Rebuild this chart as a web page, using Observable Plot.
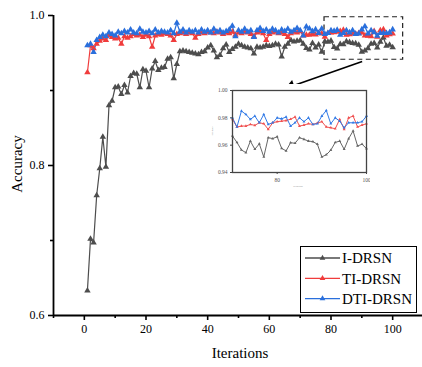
<!DOCTYPE html>
<html><head><meta charset="utf-8">
<script src="https://cdn.jsdelivr.net/npm/d3@7"></script>
<script src="https://cdn.jsdelivr.net/npm/@observablehq/plot@0.6"></script>
<style>
body{margin:0;background:#fff;}
#wrap{position:relative;width:422px;height:367px;overflow:hidden;background:#fff;}
#wrap svg.inset{position:absolute;left:200px;top:84px;}
</style></head><body><div id="wrap"></div>
<script>
const iterations = d3.range(1, 101);
const iDRSN = [0.633,0.702,0.697,0.760,0.796,0.838,0.798,0.880,0.886,0.904,
0.905,0.895,0.907,0.897,0.919,0.923,0.922,0.904,0.928,0.926,
0.904,0.929,0.939,0.927,0.930,0.931,0.942,0.944,0.916,0.935,
0.952,0.953,0.952,0.951,0.950,0.949,0.948,0.951,0.952,0.957,
0.960,0.953,0.944,0.947,0.956,0.961,0.951,0.955,0.958,0.962,
0.960,0.958,0.957,0.956,0.949,0.958,0.957,0.958,0.960,0.959,
0.960,0.962,0.961,0.945,0.958,0.962,0.967,0.965,0.966,0.9667,
0.962,0.9565,0.9545,0.963,0.957,0.961,0.9514,0.9655,0.9648,0.9662,
0.9577,0.9558,0.9618,0.9614,0.9655,0.9643,0.963,0.9626,0.9607,0.9514,
0.953,0.9563,0.962,0.963,0.957,0.9648,0.9704,0.9594,0.9607,0.9575];
const tiDRSN = [0.924,0.960,0.956,0.962,0.966,0.969,0.967,0.973,0.971,0.969,
0.970,0.962,0.972,0.970,0.972,0.975,0.973,0.974,0.971,0.974,
0.972,0.958,0.973,0.975,0.974,0.976,0.975,0.973,0.967,0.975,
0.976,0.977,0.975,0.977,0.976,0.970,0.975,0.977,0.976,0.978,
0.977,0.976,0.978,0.977,0.975,0.977,0.976,0.978,0.974,0.977,
0.976,0.978,0.977,0.975,0.972,0.977,0.978,0.976,0.967,0.975,
0.977,0.978,0.976,0.977,0.975,0.971,0.976,0.978,0.977,0.9789,
0.9733,0.974,0.974,0.9752,0.9745,0.9764,0.9757,0.9716,0.9764,0.9772,
0.9776,0.978,0.979,0.9806,0.974,0.9747,0.9757,0.9752,0.9762,0.9772,
0.9733,0.9728,0.972,0.9789,0.9716,0.980,0.9813,0.9733,0.9747,0.9757];
const dtiDRSN = [0.960,0.962,0.951,0.967,0.971,0.974,0.972,0.977,0.975,0.973,
0.978,0.976,0.979,0.977,0.981,0.977,0.976,0.982,0.978,0.977,
0.979,0.976,0.981,0.977,0.979,0.978,0.977,0.980,0.976,0.990,
0.978,0.981,0.977,0.980,0.978,0.980,0.977,0.981,0.978,0.980,
0.977,0.982,0.978,0.980,0.977,0.979,0.981,0.986,0.972,0.980,
0.978,0.982,0.978,0.980,0.971,0.980,0.983,0.979,0.981,0.978,
0.982,0.980,0.977,0.981,0.979,0.982,0.978,0.980,0.983,0.980,
0.9733,0.985,0.9825,0.9789,0.9813,0.9764,0.9825,0.9752,0.9764,0.980,
0.9793,0.9806,0.974,0.9764,0.980,0.9772,0.980,0.9752,0.9757,0.9813,
0.9854,0.9757,0.980,0.9776,0.9728,0.9764,0.9764,0.9764,0.9772,0.9813];
const seriesNames = ["I-DRSN", "TI-DRSN", "DTI-DRSN"];
const seriesColors = ["#4d4d4d", "#f03c3c", "#2a6fdc"];
const xTicks = [0, 20, 40, 60, 80, 100];
const xMinor = [-10, 10, 30, 50, 70, 90, 110];
const yTicks = [0.6, 0.8, 1.0];
const yMinor = [0.7, 0.9];
const insetXTicks = [80, 100];
const insetYTicks = [0.94, 0.96, 0.98, 1.00];
const insetStart = 70;
const zoomBox = [{x1: 77.9, x2: 103.4, y1: 0.941, y2: 0.9977}];
const arrow = [{x1: 90.1, y1: 0.9387, x2: 67.0, y2: 0.9053}];

const seriesValues = [iDRSN, tiDRSN, dtiDRSN];
const rows = seriesNames.flatMap((s, k) => seriesValues[k].map((v, i) => ({it: iterations[i], acc: v, s})));
const font = "'Liberation Serif', 'Times New Roman', serif";
const angle = Math.atan2(-(0.9053 - 0.9387) * 750, (67.0 - 90.1) * 370 / 120) * 180 / Math.PI + 90;

const main = Plot.plot({
  width: 422, height: 367,
  marginLeft: 53, marginRight: -1, marginTop: 15, marginBottom: 52,
  style: {fontFamily: font, fontSize: "12px", background: "transparent", color: "#000"},
  x: {domain: [-10, 110]},
  y: {domain: [0.6, 1.0]},
  color: {domain: seriesNames, range: seriesColors},
  marks: [
    Plot.axisX(xTicks, {tickSize: 5, tickPadding: 4, label: null, strokeWidth: 1.6}),
    Plot.axisX(xMinor, {tickSize: 3, text: null, label: null, strokeWidth: 1.6}),
    Plot.axisY(yTicks, {tickSize: 5, tickPadding: 4, tickFormat: d3.format(".1f"), label: null, strokeWidth: 1.6}),
    Plot.axisY(yMinor, {tickSize: 3, text: null, label: null, strokeWidth: 1.6}),
    Plot.ruleY([0.6], {strokeWidth: 1.8}),
    Plot.ruleX([-10], {strokeWidth: 1.8}),
    Plot.rect(zoomBox, {x1: "x1", x2: "x2", y1: "y1", y2: "y2", fill: "none", stroke: "#222", strokeWidth: 1.2, strokeDasharray: "5,3.5"}),
    Plot.link(arrow, {x1: "x1", y1: "y1", x2: "x2", y2: "y2", stroke: "#000", strokeWidth: 1.6}),
    Plot.dot(arrow, {x: "x2", y: "y2", symbol: "triangle", r: 4.2, fill: "#000", stroke: "none", rotate: angle}),
    Plot.line(rows, {x: "it", y: "acc", z: "s", stroke: "s", strokeWidth: 1.2}),
    Plot.dot(rows, {x: "it", y: "acc", fill: "s", symbol: "triangle", r: 2.4, stroke: "none"})
  ]
});

const svg = d3.select(main);
svg.append("text").attr("x", 240).attr("y", 353).attr("text-anchor", "middle").attr("dy", "0.35em")
  .style("font-size", "15px").style("font-family", font).text("Iterations");
svg.append("text").attr("transform", "translate(17,164) rotate(-90)").attr("text-anchor", "middle").attr("dy", "0.35em")
  .style("font-size", "15px").style("font-family", font).text("Accuracy");

const lg = svg.append("g");
lg.append("rect").attr("x", 300.5).attr("y", 246.5).attr("width", 116).attr("height", 66)
  .attr("fill", "#fff").attr("stroke", "#000").attr("stroke-width", 1);
seriesNames.forEach((n, k) => {
  const y = 258 + k * 20.3;
  lg.append("line").attr("x1", 305).attr("x2", 340).attr("y1", y).attr("y2", y)
    .attr("stroke", seriesColors[k]).attr("stroke-width", 1.3);
  lg.append("path").attr("d", d3.symbol(d3.symbolTriangle, 14)()).attr("transform", `translate(322.5,${y})`)
    .attr("fill", seriesColors[k]);
  lg.append("text").attr("x", 342).attr("y", y).attr("dy", "0.35em").attr("text-anchor", "start")
    .style("font-size", "15px").style("font-family", font).text(n);
});

const insetRows = rows.filter(d => d.it >= insetStart);
const inset = Plot.plot({
  width: 170, height: 110,
  marginLeft: 32, marginRight: 4, marginTop: 6, marginBottom: 22,
  style: {fontFamily: font, fontSize: "5.5px", background: "#fff", color: "#555"},
  x: {domain: [insetStart, 100]},
  y: {domain: [0.94, 1.0]},
  color: {domain: seriesNames, range: ["#666666", "#f05050", "#3079e6"]},
  marks: [
    Plot.axisX(insetXTicks, {tickSize: 2, tickPadding: 4, label: null, stroke: "#444"}),
    Plot.axisY(insetYTicks, {tickSize: 2, tickPadding: 3, tickFormat: d3.format(".2f"), label: null, stroke: "#444"}),
    Plot.line(insetRows, {x: "it", y: "acc", z: "s", stroke: "s", strokeWidth: 1}),
    Plot.dot(insetRows, {x: "it", y: "acc", fill: "s", symbol: "triangle", r: 1.1, stroke: "none"}),
    Plot.frame({stroke: "#444", strokeWidth: 1.3})
  ]
});
inset.classList.add("inset");
const isv = d3.select(inset);
isv.append("text").attr("transform", "translate(13,47) rotate(-90)").attr("text-anchor", "middle")
  .style("font-size", "2.5px").style("fill", "#888").text("Accuracy");
isv.append("text").attr("x", 98).attr("y", 103).attr("text-anchor", "middle")
  .style("font-size", "2.5px").style("fill", "#888").text("Iterations");

const wrap = document.getElementById("wrap");
wrap.appendChild(main);
wrap.appendChild(inset);
</script></body></html>
